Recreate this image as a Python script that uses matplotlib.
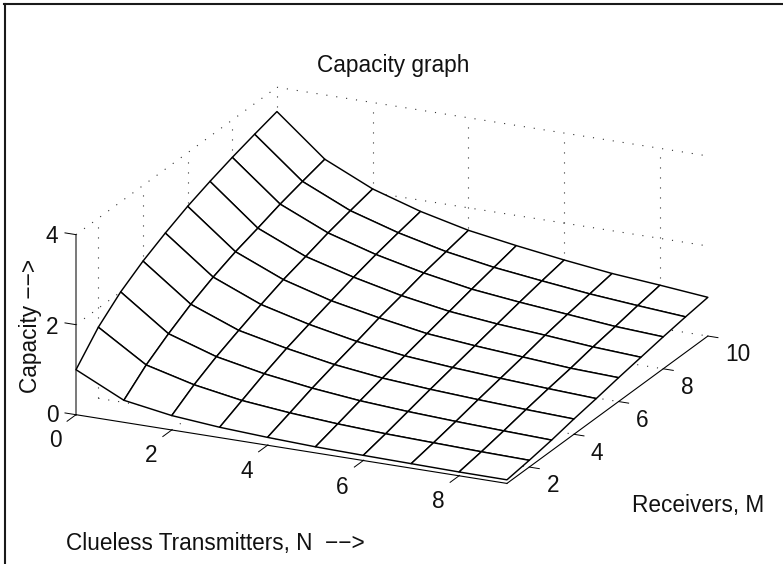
import numpy as np
import matplotlib
matplotlib.use("Agg")
import matplotlib.pyplot as plt
from matplotlib.lines import Line2D
from mpl_toolkits.mplot3d import proj3d

plt.rcParams['font.family'] = ['Liberation Sans', 'DejaVu Sans']
plt.rcParams['lines.scale_dashes'] = False

# Data
transmitters_N = [0, 1, 2, 3, 4, 5, 6, 7, 8, 9]
receivers_M = [1, 2, 3, 4, 5, 6, 7, 8, 9, 10]
cap_N0 = [1.00, 1.58, 2.00, 2.32, 2.58, 2.81, 3.00, 3.17, 3.32, 3.46]
cap_N1 = [0.49, 0.91, 1.24, 1.53, 1.77, 1.97, 2.13, 2.30, 2.44, 2.57]
cap_N2 = [0.32, 0.64, 0.90, 1.12, 1.33, 1.52, 1.67, 1.83, 1.96, 2.08]
cap_N3 = [0.23, 0.46, 0.69, 0.89, 1.06, 1.22, 1.38, 1.52, 1.64, 1.75]
cap_N4 = [0.175, 0.355, 0.54, 0.70, 0.85, 1.01, 1.14, 1.28, 1.39, 1.50]
cap_N5 = [0.135, 0.28, 0.43, 0.57, 0.70, 0.83, 0.96, 1.09, 1.21, 1.33]
cap_N6 = [0.115, 0.23, 0.36, 0.49, 0.61, 0.73, 0.85, 0.97, 1.08, 1.18]
cap_N7 = [0.10, 0.20, 0.31, 0.43, 0.54, 0.65, 0.77, 0.87, 0.96, 1.05]
cap_N8 = [0.085, 0.17, 0.27, 0.38, 0.48, 0.57, 0.68, 0.77, 0.87, 0.96]
cap_N9 = [0.08, 0.15, 0.235, 0.34, 0.43, 0.53, 0.62, 0.71, 0.79, 0.86]
capacity = [cap_N0, cap_N1, cap_N2, cap_N3, cap_N4, cap_N5, cap_N6, cap_N7, cap_N8, cap_N9]

n_ticks = [0, 2, 4, 6, 8]
m_ticks = [2, 4, 6, 8, 10]
z_ticks = [0, 2, 4]

W, H = 783, 564
fig = plt.figure(figsize=(W / 100, H / 100), dpi=100)
S0 = 500
ax = fig.add_axes([0.1, 0.05, S0 / W, S0 / H], projection='3d', computed_zorder=False)
ax.set_proj_type('ortho')
ax.view_init(elev=20, azim=-65)
ax.set_xlim(0, 9)
ax.set_ylim(1, 10)
ax.set_zlim(0, 4)
ax.set_box_aspect((1, 1, 0.403))
ax.set_axis_off()
ax.patch.set_alpha(0)

Z = np.array(capacity)
Y, X = np.meshgrid(receivers_M, transmitters_N)
xmin, xmax, ymin, ymax, zmin, zmax = 0, 9, 1, 10, 0, 4

# back-wall and floor dotted grid
dot = dict(color='#333333', lw=0.8, ls=(0, (0.8, 6.4)), zorder=1)
for n in n_ticks[1:]:
    ax.plot([n, n], [ymax, ymax], [zmin, zmax], **dot)
    ax.plot([n, n], [ymin, ymax], [zmin, zmin], **dot)
for m in m_ticks:
    ax.plot([xmin, xmin], [m, m], [zmin, zmax], **dot)
    ax.plot([xmin, xmax], [m, m], [zmin, zmin], **dot)
for z in z_ticks[1:]:
    ax.plot([xmin, xmin], [ymin, ymax], [z, z], **dot)
    ax.plot([xmin, xmax], [ymax, ymax], [z, z], **dot)

# axis lines and tick marks
ax.plot([xmin, xmin], [ymin, ymin], [zmin, zmax], color='#555555', lw=1.1, zorder=1.5)
ax.plot([xmin, xmax], [ymin, ymin], [zmin, zmin], color='k', lw=0.8, zorder=1.5)
ax.plot([xmax, xmax], [ymin, ymax], [zmin, zmin], color='k', lw=0.8, zorder=1.5)
for z in z_ticks:
    ax.plot([xmin, xmin - 0.23], [ymin, ymin], [z, z], color='k', lw=0.7, zorder=1.5)
for n in n_ticks:
    ax.plot([n, n], [ymin, ymin - 0.4], [zmin, zmin], color='k', lw=0.7, zorder=1.5)
for m in m_ticks:
    ax.plot([xmax, xmax + 0.21], [m, m], [zmin, zmin], color='k', lw=0.7, zorder=1.5)

# mesh
ax.plot_surface(X, Y, Z, rstride=1, cstride=1, color='white', edgecolor='black',
                linewidth=1.05, shade=False, antialiased=True, zorder=2)


def to_px(x, y, z):
    u, v, _ = proj3d.proj_transform(x, y, z, ax.get_proj())
    return ax.transData.transform((u, v))


# place the axes so the data box lands where the reference has it
fig.canvas.draw()
target_origin = np.array([76.0, H - 414.7])
target_end = np.array([507.0, H - 483.0])
p0, p1 = to_px(xmin, ymin, zmin), to_px(xmax, ymin, zmin)
scale = np.hypot(*(target_end - target_origin)) / np.hypot(*(p1 - p0))
S = S0 * scale
ax.set_position([0.1, 0.05, S / W, S / H])
fig.canvas.draw()
p0 = to_px(xmin, ymin, zmin)
shift = target_origin - p0
ax.set_position([0.1 + shift[0] / W, 0.05 + shift[1] / H, S / W, S / H])


def put(x, y, s, **kw):
    fig.text(x / W, 1 - y / H, s, fontsize=kw.pop('fontsize', 16.3), ha=kw.pop('ha', 'center'),
             va=kw.pop('va', 'center_baseline'), color='#111111', **kw)


n_label_xy = [(55, 438), (151, 453), (247, 469), (342, 485), (438, 499)]
m_label_xy = [(553, 483), (597, 451), (642, 418), (687, 385), (738, 352)]
z_label_xy = [(52, 413), (52, 325), (52, 234)]
for (x, y), t in zip(n_label_xy, n_ticks):
    put(x, y, str(t))
for (x, y), t in zip(m_label_xy, m_ticks):
    put(x, y, str(t))
for (x, y), t in zip(z_label_xy, z_ticks):
    put(x, y, str(t))

put(393, 63, 'Capacity graph')
put(28, 326, 'Capacity \u2212\u2212>', rotation=90, rotation_mode='anchor')
put(66, 541, 'Clueless Transmitters, N  \u2212\u2212>', ha='left')
put(632, 503, 'Receivers, M', ha='left')

# frame
fig.add_artist(Line2D([5 / W, 5 / W], [0, 1 - 4 / H], color='#1a1a1a', lw=1.5))
fig.add_artist(Line2D([4 / W, 1], [1 - 4 / H, 1 - 4 / H], color='#1a1a1a', lw=1.5))

fig.savefig('out.png', dpi=100)
